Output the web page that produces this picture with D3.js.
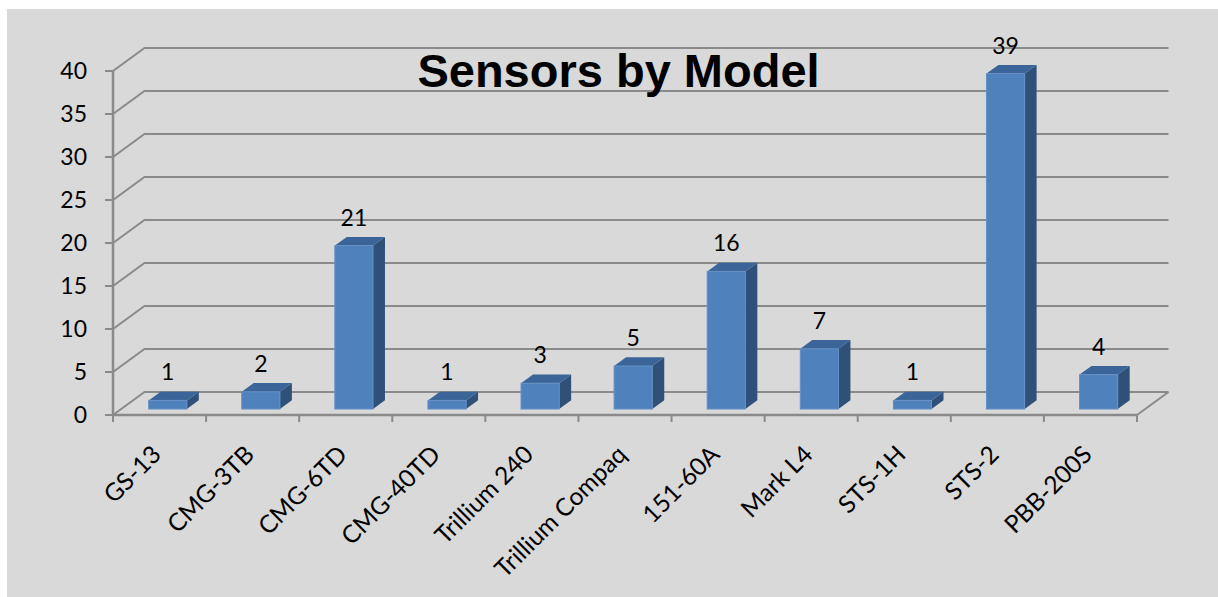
<!DOCTYPE html>
<html>
<head>
<meta charset="utf-8">
<script src="https://cdn.jsdelivr.net/npm/d3@7"></script>
<style>
  html, body { margin: 0; padding: 0; background: #ffffff; }
  svg { display: block; }
</style>
</head>
<body>
<div id="grafico"></div>
<script>
// Datos
const categorias = ["GS-13", "CMG-3TB", "CMG-6TD", "CMG-40TD", "Trillium 240", "Trillium Compaq",
                    "151-60A", "Mark L4", "STS-1H", "STS-2", "PBB-200S"];
// altura de las barras tal como se ven
const valores = [1, 2, 19, 1, 3, 5, 16, 7, 1, 39, 4];
// etiquetas escritas encima de cada barra
const etiquetas = ["1", "2", "21", "1", "3", "5", "16", "7", "1", "39", "4"];
const ticksY = [0, 5, 10, 15, 20, 25, 30, 35, 40];
const titulo = "Sensors by Model";

const WIDTH = 1218;
const HEIGHT = 597;

// desplazamiento de la profundidad (efecto 3D)
const profX = 31.5;
const profY = -23;
const z0 = 0.26, z1 = 0.64;

const colorGrid = "#8a8a8a";
const fuente = "Lato, 'Open Sans', sans-serif";

var svg = d3.select("#grafico")
    .append("svg")
    .attr("width", WIDTH)
    .attr("height", HEIGHT);

// fondo gris
svg.append("rect")
    .attr("x", 7).attr("y", 9)
    .attr("width", WIDTH - 7).attr("height", HEIGHT - 9)
    .attr("fill", "#d9d9d9");

var x = d3.scaleBand().domain(categorias).range([113, 1137]);
var xBarra = d3.scaleBand().domain(categorias).range([113, 1137])
    .paddingInner(0.59).paddingOuter(0.295);
var y = d3.scaleLinear().domain([0, 40]).range([415, 71]);

var x0 = x.range()[0], x1 = x.range()[1];

// rejilla: pared izquierda y pared del fondo
var rejilla = svg.append("g");
ticksY.forEach(function (v) {
    rejilla.append("path")
        .attr("d", d3.line()([[x0, y(v)], [x0 + profX, y(v) + profY], [x1 + profX, y(v) + profY]]))
        .attr("fill", "none")
        .attr("stroke", colorGrid)
        .attr("stroke-width", 2);
});
// suelo: diagonal derecha
rejilla.append("path")
    .attr("d", d3.line()([[x1, y(0)], [x1 + profX, y(0) + profY]]))
    .attr("fill", "none")
    .attr("stroke", colorGrid)
    .attr("stroke-width", 2);

// barras
var bw = xBarra.bandwidth();
var dx = profX * (z1 - z0), dy = profY * (z1 - z0);
var barras = svg.append("g");
categorias.forEach(function (c, i) {
    var bx = xBarra(c) + profX * z0;
    var top = y(valores[i]) + profY * z0;
    var bot = y(0) + profY * z0;
    // lateral
    barras.append("path")
        .attr("d", d3.line()([[bx + bw, top], [bx + bw + dx, top + dy], [bx + bw + dx, bot + dy], [bx + bw, bot]]) + "Z")
        .attr("fill", "#2f5179");
    // tapa
    barras.append("path")
        .attr("d", d3.line()([[bx, top], [bx + bw, top], [bx + bw + dx, top + dy], [bx + dx, top + dy]]) + "Z")
        .attr("fill", "#3b6598");
    // frente
    barras.append("rect")
        .attr("x", bx).attr("y", top)
        .attr("width", bw).attr("height", bot - top)
        .attr("fill", "#4f81bd")
        .attr("stroke", "#6590c6")
        .attr("stroke-width", 1);
    // etiqueta
    barras.append("text")
        .attr("x", bx + bw / 2)
        .attr("y", top - 20)
        .attr("text-anchor", "middle")
        .style("font-family", fuente)
        .style("font-size", "23px")
        .attr("fill", "#000")
        .text(etiquetas[i]);
});

// eje Y (delante)
svg.append("line")
    .attr("x1", x0).attr("x2", x0)
    .attr("y1", y(0)).attr("y2", y(40))
    .attr("stroke", colorGrid).attr("stroke-width", 2.5);
ticksY.forEach(function (v) {
    svg.append("line")
        .attr("x1", x0 - 8).attr("x2", x0)
        .attr("y1", y(v)).attr("y2", y(v))
        .attr("stroke", colorGrid).attr("stroke-width", 2);
    svg.append("text")
        .attr("x", 87)
        .attr("y", y(v))
        .attr("dy", "0.36em")
        .attr("text-anchor", "end")
        .style("font-family", fuente)
        .style("font-size", "23px")
        .text(v);
});

// eje X (delante)
svg.append("line")
    .attr("x1", x0).attr("x2", x1)
    .attr("y1", y(0)).attr("y2", y(0))
    .attr("stroke", colorGrid).attr("stroke-width", 2.5);
categorias.concat([null]).forEach(function (c, i) {
    var tx = x0 + i * x.step();
    svg.append("line")
        .attr("x1", tx).attr("x2", tx)
        .attr("y1", y(0)).attr("y2", y(0) + 7)
        .attr("stroke", colorGrid).attr("stroke-width", 2);
});
categorias.forEach(function (c) {
    var cx = x(c) + x.bandwidth() / 2 + 3;
    svg.append("text")
        .attr("transform", "translate(" + cx + ",456) rotate(-45)")
        .attr("text-anchor", "end")
        .style("font-family", fuente)
        .style("font-size", "24.5px")
        .text(c);
});

// titulo
svg.append("text")
    .attr("x", 618.5)
    .attr("y", 87)
    .attr("text-anchor", "middle")
    .style("font-family", "'Liberation Sans', Arial, sans-serif")
    .style("font-weight", "bold")
    .style("font-size", "47px")
    .text(titulo);
</script>
</body>
</html>
